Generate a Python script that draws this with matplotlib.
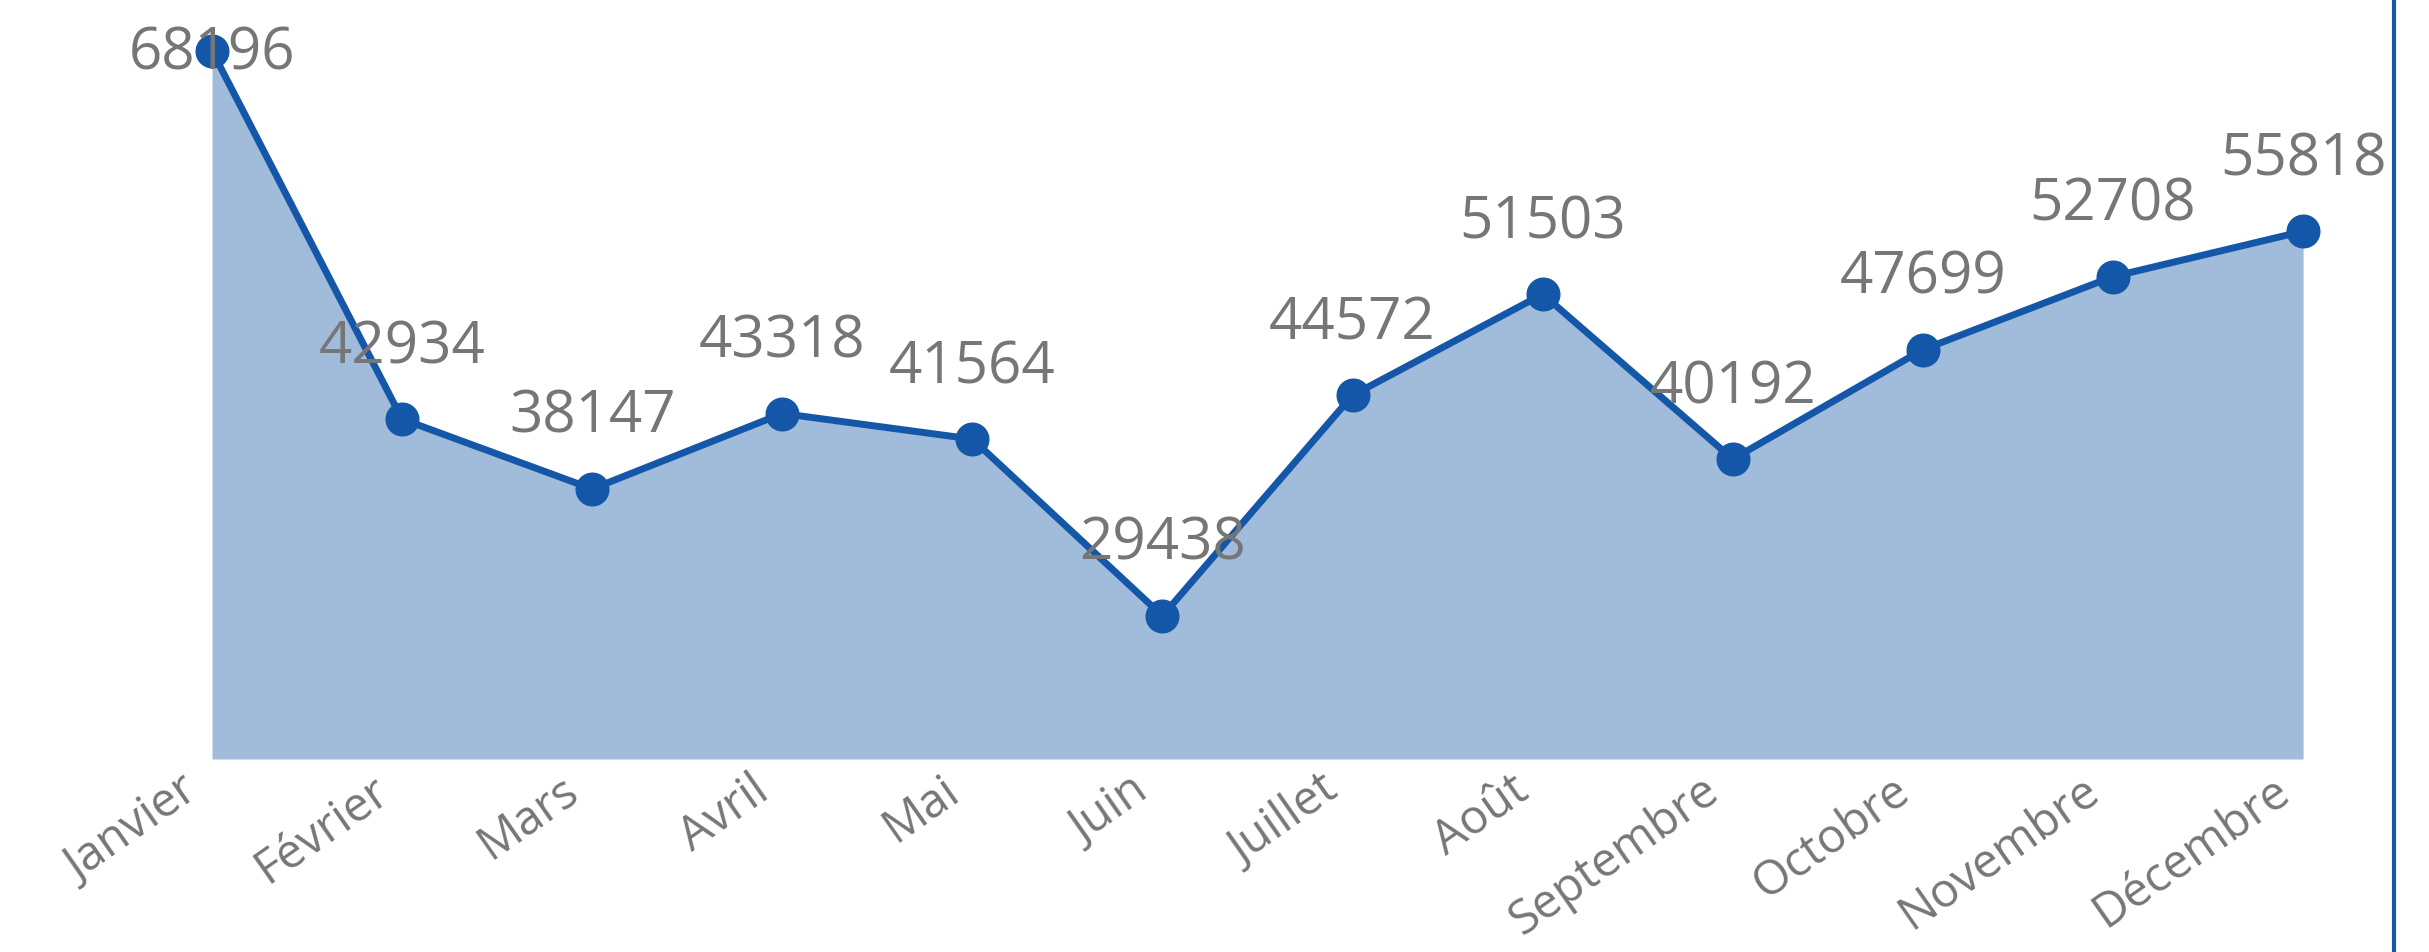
import matplotlib
matplotlib.use("Agg")
import matplotlib.pyplot as plt
import matplotlib.transforms as mtransforms
import numpy as np

mois = ["Janvier", "Février", "Mars", "Avril", "Mai", "Juin", "Juillet",
        "Août", "Septembre", "Octobre", "Novembre", "Décembre"]
valeurs = [68196, 42934, 38147, 43318, 41564, 29438, 44572,
           51503, 40192, 47699, 52708, 55818]

plt.rcParams["font.family"] = ["Open Sans", "DejaVu Sans"]

bleu = "#1457A8"
bleu_clair = "#A0BCDA"
gris = "#767676"

W, H = 2429, 953
fig = plt.figure(figsize=(W / 100, H / 100), dpi=100)
# axes: du premier point (x=212px) jusqu'au trait vertical a droite (x=2393px)
ax = fig.add_axes([212 / W, (H - 760) / H, (2393 - 212) / W, 760 / H])

x = np.arange(len(mois))
ymin, ymax = 19620, 71750
ax.set_ylim(ymin, ymax)
ax.set_xlim(0, 11.473)

ax.fill_between(x, valeurs, ymin, color=bleu_clair, lw=0, zorder=1)
ax.plot(x, valeurs, color=bleu, lw=5, marker="o", ms=23.5, zorder=3,
        clip_on=False)

for i, v in enumerate(valeurs):
    # premier point trop haut : etiquette centree sur le point
    dy = -18 if i == 0 else 57
    ax.annotate(str(v), (i, v), xytext=(0, dy * 0.72), textcoords="offset points",
                ha="center", va="baseline", fontsize=42, fontweight="medium",
                color=gris, zorder=4, annotation_clip=False)

ax.set_xticks(x)
ax.set_xticklabels(mois, rotation=35, ha="right", rotation_mode="anchor",
                   fontsize=34, color=gris)
ax.tick_params(axis="x", length=0, pad=5)
decale = mtransforms.ScaledTranslation(-32 / 100, 0, fig.dpi_scale_trans)
for lab in ax.get_xticklabels():
    lab.set_transform(lab.get_transform() + decale)
ax.set_yticks([])

for s in ["top", "left", "bottom", "right"]:
    ax.spines[s].set_visible(False)

# trait vertical sur toute la hauteur
fig.add_artist(plt.Line2D([2393.5 / W, 2393.5 / W], [0, 1], color=bleu, lw=3))

fig.savefig("out.png", dpi=100)
